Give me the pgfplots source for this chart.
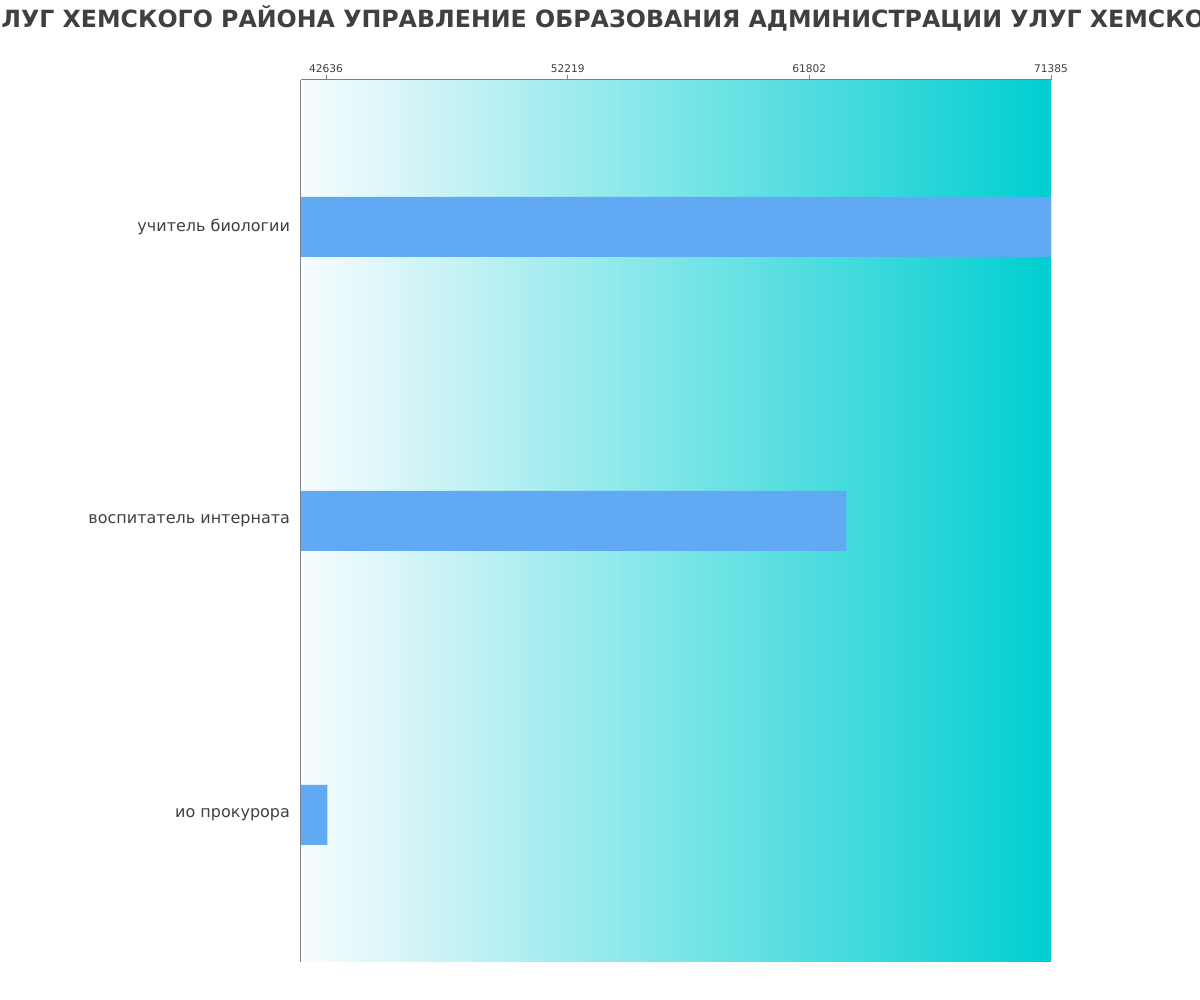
\documentclass[border=0pt]{standalone}
\usepackage{fontspec}
\setmainfont{DejaVu Sans}
\usepackage{pgfplots}
\pgfplotsset{compat=1.18}
\definecolor{txt}{HTML}{404040}
\definecolor{barc}{HTML}{62A9F4}
\definecolor{bgl}{HTML}{F8FCFE}
\definecolor{bgr}{HTML}{00CED1}
\definecolor{axc}{HTML}{808080}
\begin{document}
\begin{tikzpicture}
\begin{axis}[
  scale only axis,
  width=375pt, height=441pt,
  xbar, bar width=30pt, bar shift=0pt,
  xmin=41644, xmax=71385,
  ymin=-0.5, ymax=2.5,
  axis x line*=top, axis y line*=left,
  axis line style={axc, line width=0.5pt},
  axis background/.style={left color=bgl, right color=bgr, draw=none},
  scaled x ticks=false,
  xtick={42636,52219,61802,71385},
  xticklabels={42636,52219,61802,71385},
  tick align=outside,
  major tick length=2.5pt,
  xtick style={axc, line width=0.5pt},
  xticklabel style={font=\fontsize{5.3}{6}\selectfont, text=txt, inner sep=1pt},
  ytick={0,1,2},
  yticklabels={ио прокурора, воспитатель интерната, учитель биологии},
  ytick style={draw=none},
  yticklabel style={font=\fontsize{8}{9}\selectfont, text=txt, xshift=0.5pt},
  /pgf/number format/assume math mode=true,
]
\addplot[fill=barc, draw=none] coordinates {
  (42690,0)
  (63270,1)
  (71385,2)
};
\coordinate (LL) at (rel axis cs:0,0);
\end{axis}
\pgfresetboundingbox
\path[use as bounding box] ([shift={(-150.5pt,-19pt)}]LL) rectangle ([shift={(449.5pt,481pt)}]LL);
\node[anchor=base west, inner sep=0pt, text=txt, font=\fontsize{11.85}{14}\selectfont\bfseries]
  at ([shift={(-150pt,467pt)}]LL) {ЛУГ ХЕМСКОГО РАЙОНА УПРАВЛЕНИЕ ОБРАЗОВАНИЯ АДМИНИСТРАЦИИ УЛУГ ХЕМСКОГО РАЙОНА};
\end{tikzpicture}
\end{document}
